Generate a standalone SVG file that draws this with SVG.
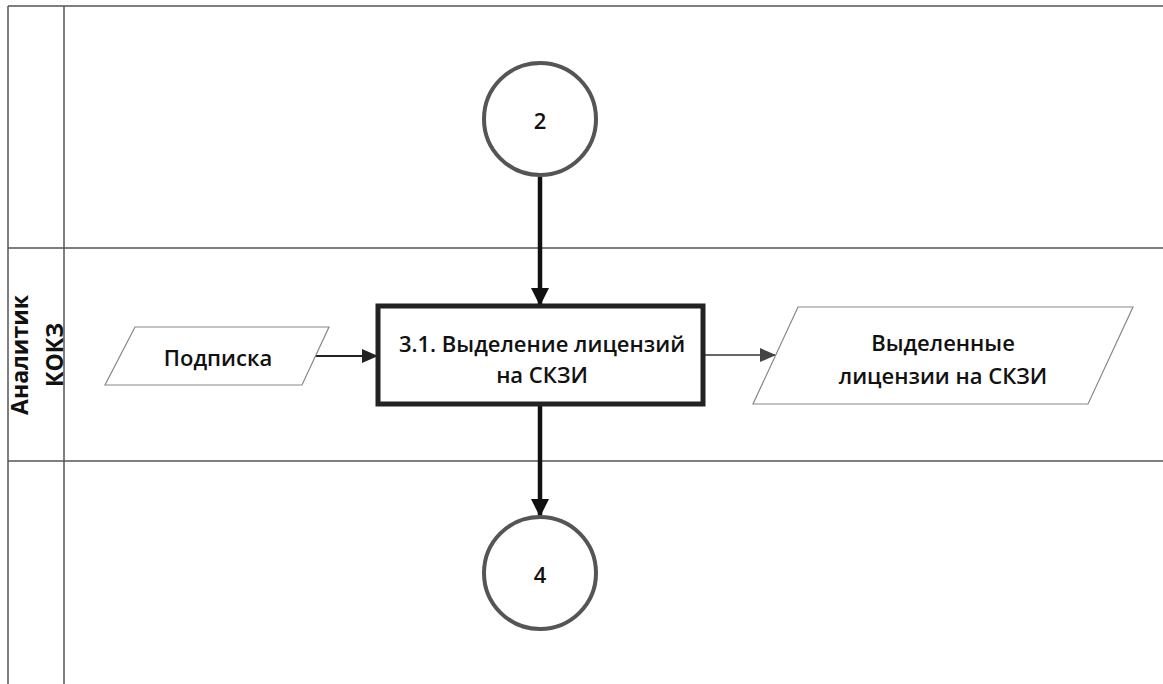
<svg xmlns="http://www.w3.org/2000/svg" width="1163" height="684" viewBox="0 0 1163 684">
<style>
.lane{stroke:#555;stroke-width:1.5;fill:none}
.txt{font-family:"Open Sans","Liberation Sans",sans-serif;font-size:22px;font-weight:600;fill:#111;text-anchor:middle;dominant-baseline:central}
.lbl{font-family:"Open Sans","Liberation Sans",sans-serif;font-size:23px;font-weight:bold;fill:#111;text-anchor:middle}
.para{fill:#fff;stroke:#888;stroke-width:1.2}
.conn{fill:#fff;stroke:#555;stroke-width:4}
.thick{stroke:#111;stroke-width:4.5;fill:none}
.thin{stroke:#222;stroke-width:2;fill:none}
.grey{stroke:#666;stroke-width:2;fill:none}
</style>
<defs>
<marker id="ahBig" markerWidth="18" markerHeight="18" refX="17" refY="9" orient="auto" markerUnits="userSpaceOnUse" viewBox="0 0 18 18"><path d="M0,0 L18,9 L0,18 z" fill="#111"/></marker>
<marker id="ahMid" markerWidth="16" markerHeight="16" refX="15" refY="8" orient="auto" markerUnits="userSpaceOnUse" viewBox="0 0 16 16"><path d="M0,1 L16,8 L0,15 z" fill="#222"/></marker>
<marker id="ahGrey" markerWidth="16" markerHeight="16" refX="15" refY="8" orient="auto" markerUnits="userSpaceOnUse" viewBox="0 0 16 16"><path d="M0,1 L16,8 L0,15 z" fill="#444"/></marker>
</defs>
<rect x="0" y="0" width="1163" height="684" fill="#fff"/>
<g id="lanes">
<line class="lane" x1="8" y1="6" x2="1163" y2="6"/>
<line class="lane" x1="8" y1="248" x2="1163" y2="248"/>
<line class="lane" x1="8" y1="461" x2="1163" y2="461"/>
<line class="lane" x1="8" y1="6" x2="8" y2="684"/>
<line class="lane" x1="64" y1="6" x2="64" y2="684"/>
<text class="lbl" transform="translate(36,355) rotate(-90)"><tspan x="0" y="-8">Аналитик</tspan><tspan x="0" y="27">КОКЗ</tspan></text>
</g>
<g id="connectors">
<line class="thick" x1="540" y1="177" x2="540" y2="305" marker-end="url(#ahBig)"/>
<line class="thick" x1="540" y1="406" x2="540" y2="516" marker-end="url(#ahBig)"/>
<line class="thin" x1="314" y1="356" x2="377" y2="356" marker-end="url(#ahMid)"/>
<line class="grey" x1="705" y1="355" x2="775" y2="355" marker-end="url(#ahGrey)"/>
</g>
<g id="node-2">
<circle class="conn" cx="540" cy="119" r="56"/>
<text class="txt" x="540" y="120">2</text>
</g>
<g id="node-4">
<circle class="conn" cx="540" cy="573" r="56"/>
<text class="txt" x="540" y="574">4</text>
</g>
<g id="node-podpiska">
<polygon class="para" points="135,327 329,327 302,385 105,385"/>
<text class="txt" x="218" y="357">Подписка</text>
</g>
<g id="node-3-1">
<rect x="378" y="306" width="325" height="98" fill="#fff" stroke="#222" stroke-width="5"/>
<text class="txt" x="542" y="343">3.1. Выделение лицензий</text>
<text class="txt" x="542" y="374">на СКЗИ</text>
</g>
<g id="node-out">
<polygon class="para" points="798,307 1133,307 1088,404 753,404"/>
<text class="txt" x="943" y="342">Выделенные</text>
<text class="txt" x="943" y="375">лицензии на СКЗИ</text>
</g>
</svg>
